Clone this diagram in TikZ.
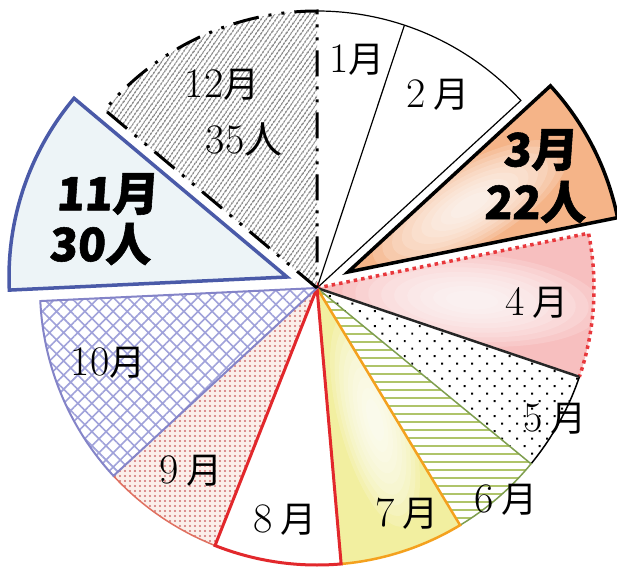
\documentclass[tikz,border=0pt]{standalone}
\usepackage{fontspec}
\newfontfamily\cjk{Noto Sans CJK JP}
\newfontfamily\cjkb[FakeSlant=0.07,FakeBold=1.2]{Noto Sans CJK JP}
\usetikzlibrary{patterns.meta}
\definecolor{peach}{HTML}{F5B488}
\definecolor{pinkf}{HTML}{F7BFBF}
\definecolor{yellowf}{HTML}{F2EFA0}
\definecolor{orangel}{HTML}{F4A11E}
\definecolor{redl}{HTML}{E2282C}
\definecolor{reddot}{HTML}{E8383C}
\definecolor{greenl}{HTML}{7E9E4E}
\definecolor{greenh}{HTML}{AFC46A}
\definecolor{purpl}{HTML}{8484C8}
\definecolor{purph}{HTML}{A0A2DA}
\definecolor{bluel}{HTML}{4A5AA8}
\definecolor{bluef}{HTML}{EDF4F7}
\definecolor{pinkbg}{HTML}{FBEFEA}
\definecolor{pinkdot}{HTML}{D07070}
\definecolor{salmonl}{HTML}{E07060}
\newcommand\tsuki{{\cjk\fontsize{36}{40}\selectfont 月}}
\newcommand\hito{{\cjk\fontsize{38}{40}\selectfont 人}}
\begin{document}
\begin{tikzpicture}[x=1pt,y=1pt,
  lab/.style={inner sep=0pt, font=\fontsize{42}{46}\selectfont},
  blab/.style={inner sep=0pt, font=\cjkb\bfseries\fontsize{46}{50}\selectfont},
  thinblack/.style={line width=1.2pt, black},
  ddot/.style={line width=3pt, black, dash pattern=on 26pt off 10pt on 3pt off 10pt on 3pt off 10pt},
  glow/.style={white, opacity=0.17}
]
\useasboundingbox (0,0) rectangle (617,566);
\fill[white] (0,0) rectangle (617,566);
\begin{scope}[shift={(317,278)}]
  % ---- fills ----
  % 1, 2
  \fill[white] (0,0) -- (90:277) arc[start angle=90,end angle=42.6,radius=277] -- cycle;
  % 4
  \begin{scope}
    \clip (0,0) -- (11.4:277) arc[start angle=11.4,end angle=-18.7,radius=277] -- cycle;
    \fill[pinkf] (-300,-300) rectangle (300,300);
    \begin{scope}[shift={(155,-12)}, rotate=-4]
      \foreach \s in {10,9,...,2} \fill[glow] (0,0) ellipse [x radius=13*\s, y radius=4.6*\s];
    \end{scope}
  \end{scope}
  % 5
  \fill[white] (0,0) -- (-18.7:277) arc[start angle=-18.7,end angle=-39.4,radius=277] -- cycle;
  \fill[pattern={Dots[angle=45,distance=10.6pt,radius=1.4pt]}, pattern color=black]
    (0,0) -- (-18.7:277) arc[start angle=-18.7,end angle=-39.4,radius=277] -- cycle;
  % 6
  \fill[white] (0,0) -- (-39.4:277) arc[start angle=-39.4,end angle=-58.9,radius=277] -- cycle;
  \fill[pattern={Lines[angle=0,distance=8pt,line width=2pt]}, pattern color=greenh]
    (0,0) -- (-39.4:277) arc[start angle=-39.4,end angle=-58.9,radius=277] -- cycle;
  % 7
  \begin{scope}
    \clip (0,0) -- (-58.9:277) arc[start angle=-58.9,end angle=-85,radius=277] -- cycle;
    \fill[yellowf] (-300,-300) rectangle (300,300);
    \begin{scope}[shift={(58,-132)}, rotate=-75]
      \foreach \s in {10,9,...,2} \fill[glow] (0,0) ellipse [x radius=11*\s, y radius=3.6*\s];
    \end{scope}
  \end{scope}
  % 8
  \fill[white] (0,0) -- (-85:277) arc[start angle=-85,end angle=-111.6,radius=277] -- cycle;
  % 9
  \fill[pinkbg] (0,0) -- (-111.6:277) arc[start angle=-111.6,end angle=-137.3,radius=277] -- cycle;
  \fill[pattern={Dots[angle=0,distance=5pt,radius=1.05pt]}, pattern color=pinkdot]
    (0,0) -- (-111.6:277) arc[start angle=-111.6,end angle=-137.3,radius=277] -- cycle;
  % 10
  \fill[white] (0,0) -- (-137.3:277) arc[start angle=-137.3,end angle=-177.3,radius=277] -- cycle;
  \fill[pattern={Hatch[angle=45,distance=10pt,line width=1.6pt]}, pattern color=purph]
    (0,0) -- (-137.3:277) arc[start angle=-137.3,end angle=-177.3,radius=277] -- cycle;
  % 12
  \fill[white] (0,0) -- (140:277) arc[start angle=140,end angle=90,radius=277] -- cycle;
  \fill[pattern={Lines[angle=55,distance=4pt,line width=1.2pt]}, pattern color=black!65]
    (0,0) -- (140:277) arc[start angle=140,end angle=90,radius=277] -- cycle;

  % ---- borders ----
  \draw[thinblack] (0,0) -- (71.6:277);
  \draw[thinblack] (0,0) -- (42.6:277) arc[start angle=42.6,end angle=90,radius=277];
  \draw[line width=3.5pt, reddot, dash pattern=on 3.5pt off 4pt]
    (0,0) -- (11.4:277) arc[start angle=11.4,end angle=-18.7,radius=277];
  \draw[line width=1.5pt, black] (-18.7:277) arc[start angle=-18.7,end angle=-39.4,radius=277];
  \draw[line width=2.5pt, black!85] (0,0) -- (-18.7:277);
  \draw[line width=1.5pt, greenl] (0,0) -- (-39.4:277) arc[start angle=-39.4,end angle=-58.9,radius=277];
  \draw[line width=2.5pt, orangel] (0,0) -- (-58.9:277) arc[start angle=-58.9,end angle=-85,radius=277];
  \draw[line width=1.5pt, salmonl] (-111.6:277) arc[start angle=-111.6,end angle=-137.3,radius=277];
  \draw[line width=3pt, redl] (0,0) -- (-85:277) arc[start angle=-85,end angle=-111.6,radius=277] -- cycle;
  \draw[line width=2pt, purpl] (0,0) -- (-137.3:277) arc[start angle=-137.3,end angle=-177.3,radius=277] -- cycle;
  \draw[ddot] (0,0) -- (140:277) arc[start angle=140,end angle=90,radius=277] -- cycle;

  % ---- 3 (exploded) ----
  \begin{scope}[shift={(31,16)}]
    \begin{scope}
      \clip (0,0) -- (42.6:275) arc[start angle=42.6,end angle=11.4,radius=275] -- cycle;
      \fill[peach] (-300,-300) rectangle (300,300);
      \begin{scope}[shift={(122,67)}, rotate=30]
        \foreach \s in {10,9,...,2} \fill[glow] (0,0) ellipse [x radius=11*\s, y radius=4*\s];
      \end{scope}
    \end{scope}
    \draw[line width=3.5pt, black] (0,0) -- (42.6:275) arc[start angle=42.6,end angle=11.4,radius=275] -- cycle;
  \end{scope}
  % ---- 11 (exploded) ----
  \begin{scope}[shift={(-30,11)}]
    \filldraw[fill=bluef, draw=bluel, line width=3.5pt]
      (0,0) -- (-177.3:278) arc[start angle=-177.3,end angle=-220,radius=278] -- cycle;
  \end{scope}
\end{scope}

% ---- labels ----
\node[lab] (l1) at (357,506) {1\tsuki};
\node[lab] (l2) at (438,471) {2\hspace{7pt}\tsuki};
\node[blab] (l3a) at (540,416) {3月};
\node[blab] (l3b) at (535,364) {22人};
\node[lab] (l4) at (537,263) {4\hspace{7pt}\tsuki};
\node[lab] (l5) at (555,147) {5\hspace{7pt}\tsuki};
\node[lab] (l6) at (506,66) {6\hspace{7pt}\tsuki};
\node[lab] (l7) at (407,52) {7\hspace{7pt}\tsuki};
\node[lab] (l8) at (285,46) {8\hspace{7pt}\tsuki};
\node[lab] (l9) at (191,95) {9\hspace{7pt}\tsuki};
\node[lab] (l10) at (108,203) {10\tsuki};
\node[blab] (l11a) at (107,372) {11月};
\node[blab] (l11b) at (100,322) {30人};
\node[lab] (l12a) at (222,481) {12\tsuki};
\node[lab] (l12b) at (244,427) {35\hito};
\end{tikzpicture}
\end{document}
